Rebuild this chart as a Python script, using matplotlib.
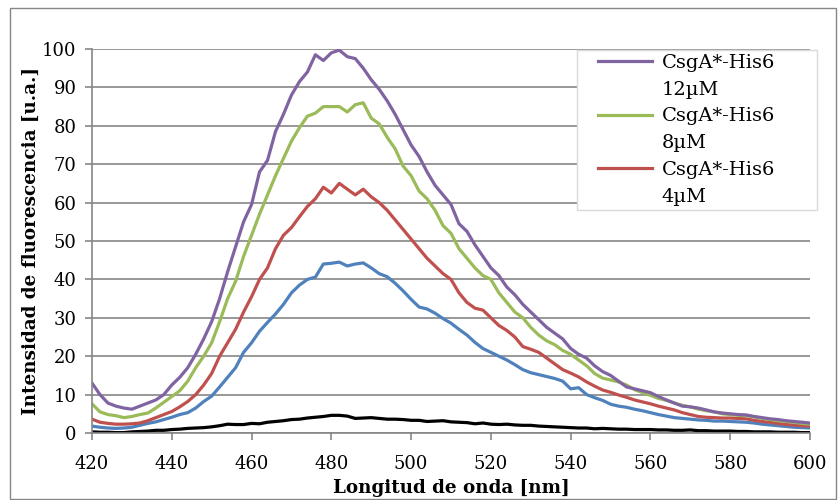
import numpy as np
import matplotlib.pyplot as plt
from matplotlib.lines import Line2D
from matplotlib.patches import Rectangle
from matplotlib.legend_handler import HandlerLine2D

# Wavelength axis, every 2 nm
wavelength = np.arange(420, 601, 2)

# CsgA*-His6 12uM (purple)
csga_12 = [13, 10, 7.8, 7, 6.5, 6.2, 7, 7.8, 8.6, 10,
           12.5, 14.5, 17, 20.5, 24.5, 29, 35, 42, 48.5, 55,
           59.5, 68, 71, 78.5, 83, 88, 91.5, 94, 98.5, 97,
           99, 99.7, 98, 97.5, 95, 92, 89.5, 86.5, 83, 79,
           75, 72, 68, 64.5, 62, 59.5, 54.5, 52.5, 49, 46,
           43, 41, 38, 36, 33.5, 31.5, 29.5, 27.5, 26, 24.5,
           22, 20.5, 19.5, 17.5, 16, 15, 13.5, 12, 11.5, 11,
           10.5, 9.5, 8.6, 7.8, 7, 6.8, 6.5, 6, 5.5, 5.2,
           5, 4.8, 4.7, 4.3, 4, 3.7, 3.5, 3.2, 3, 2.8, 2.6]

# CsgA*-His6 8uM (green)
csga_8 = [7.6, 5.5, 4.8, 4.5, 4, 4.3, 4.8, 5.2, 6.5, 8,
          9.5, 11, 13.5, 17, 20, 23.5, 29, 35, 39.5, 46,
          51.5, 57, 62, 67, 71.5, 76, 79.5, 82.5, 83.3, 85,
          85, 85, 83.6, 85.5, 86, 82, 80.5, 77, 74, 69.5,
          67, 63, 61, 58, 54, 52, 48, 45.5, 43, 41,
          40, 36.5, 34, 31.5, 30, 27.5, 25.5, 24, 23, 21.5,
          20.5, 19, 17.5, 15.5, 14.3, 13.8, 13.3, 12.5, 11.3, 10.5,
          9.8, 9, 8.5, 7.8, 7.2, 6.8, 6.2, 5.8, 5.5, 5,
          4.8, 4.6, 4.5, 4.2, 3.8, 3.5, 3.2, 3, 2.8, 2.5, 2.3]

# CsgA*-His6 4uM (red)
csga_4 = [3.6, 2.8, 2.5, 2.3, 2.3, 2.4, 2.6, 3.2, 4, 4.8,
          5.6, 6.8, 8.2, 10, 12.5, 15.5, 20, 23.5, 27, 31.5,
          35.5, 40, 43, 48, 51.5, 53.5, 56.3, 59, 61, 64,
          62.5, 65, 63.5, 62, 63.5, 61.5, 60, 58, 55.5, 53,
          50.5, 48, 45.5, 43.5, 41.5, 40, 36.5, 34, 32.5, 32,
          30, 28, 26.7, 25, 22.5, 21.8, 21, 19.5, 18, 16.5,
          15.6, 14.6, 13.3, 12.2, 11.2, 10.6, 9.9, 9.3, 8.6, 8.1,
          7.6, 7, 6.5, 6, 5.3, 4.8, 4.3, 4.1, 4, 3.9,
          3.9, 3.8, 3.7, 3.3, 3, 2.8, 2.5, 2.2, 2.1, 1.9, 1.8]

# blue series (not in legend)
serie_azul = [1.8, 1.5, 1.3, 1.2, 1.3, 1.5, 2, 2.5, 2.9, 3.5,
              4.1, 4.8, 5.3, 6.5, 8.2, 9.6, 12, 14.5, 17, 21,
              23.5, 26.5, 28.8, 31, 33.5, 36.5, 38.5, 40, 40.6, 44,
              44.2, 44.5, 43.5, 44, 44.3, 43, 41.5, 40.7, 39, 37,
              34.8, 32.8, 32.3, 31.2, 29.8, 28.6, 27, 25.5, 23.6, 22,
              21, 20, 19, 17.8, 16.5, 15.7, 15.2, 14.7, 14.2, 13.5,
              11.5, 11.8, 10, 9.2, 8.5, 7.5, 7, 6.7, 6.2, 5.8,
              5.3, 4.8, 4.4, 4, 3.8, 3.6, 3.4, 3.3, 3.1, 3.1,
              3, 2.9, 2.8, 2.6, 2.3, 2.1, 1.9, 1.7, 1.5, 1.4, 1.3]

# black series (blank, not in legend)
serie_negra = [0.3, 0.2, 0.2, 0.1, 0.1, 0.3, 0.4, 0.5, 0.7, 0.7,
               0.9, 1.0, 1.2, 1.3, 1.4, 1.6, 1.9, 2.3, 2.2, 2.2,
               2.5, 2.4, 2.8, 3.0, 3.2, 3.5, 3.6, 3.9, 4.1, 4.3,
               4.6, 4.6, 4.4, 3.8, 3.9, 4.0, 3.8, 3.6, 3.6, 3.5,
               3.3, 3.3, 3.0, 3.1, 3.2, 2.9, 2.8, 2.7, 2.4, 2.6,
               2.3, 2.2, 2.3, 2.1, 2.0, 2.0, 1.8, 1.7, 1.6, 1.5,
               1.4, 1.3, 1.3, 1.1, 1.2, 1.1, 1.0, 1.0, 0.9, 0.9,
               0.9, 0.8, 0.8, 0.7, 0.7, 0.8, 0.6, 0.6, 0.5, 0.5,
               0.5, 0.4, 0.4, 0.3, 0.3, 0.3, 0.2, 0.2, 0.2, 0.1, 0.1]

legend_names = ["CsgA*-His6", "CsgA*-His6", "CsgA*-His6"]
legend_conc = ["12µM", "8µM", "4µM"]

plt.rcParams['font.family'] = 'DejaVu Serif'
grey = '#868686'

fig = plt.figure(figsize=(8.38, 5.0), dpi=100)
ax = fig.add_axes([92 / 838, 1 - 433 / 500, (810 - 92) / 838, (433 - 49) / 500])

lw = 2.3
ax.plot(wavelength, serie_azul, color='#4F81BD', lw=lw)
l4, = ax.plot(wavelength, csga_4, color='#C0504D', lw=lw)
l8, = ax.plot(wavelength, csga_8, color='#9BBB59', lw=lw)
l12, = ax.plot(wavelength, csga_12, color='#8064A2', lw=lw)
ax.plot(wavelength, serie_negra, color='black', lw=lw)

ax.set_xlim(420, 600)
ax.set_ylim(0, 100)
ax.set_xticks(np.arange(420, 601, 20))
ax.set_yticks(np.arange(0, 101, 10))
ax.yaxis.grid(True, color=grey, lw=1.2)
ax.set_axisbelow(True)
for s in ['top', 'right']:
    ax.spines[s].set_visible(False)
for s in ['left', 'bottom']:
    ax.spines[s].set_color(grey)
    ax.spines[s].set_linewidth(1.2)
ax.tick_params(axis='both', direction='out', length=5, width=1.2, color=grey,
               labelsize=13)
ax.tick_params(axis='x', pad=11)
ax.tick_params(axis='y', pad=6)

ax.set_xlabel('Longitud de onda [nm]', fontsize=13.2, fontweight='bold', labelpad=4)
ax.set_ylabel('Intensidad de fluorescencia [u.a.]', fontsize=13.2,
              fontweight='bold', labelpad=1.5)

# legend: each label split over two rows, second row without a handle
blank = Line2D([], [], color='none')
handles = []
labels = []
for h, name, conc in zip([l12, l8, l4], legend_names, legend_conc):
    handles += [h, blank]
    labels += [name, conc]
leg = fig.legend(handles, labels, loc='upper left',
                 bbox_to_anchor=(577 / 838, 1 - 208 / 500, 240 / 838, 158 / 500),
                 mode='expand', borderaxespad=0,
                 handler_map={Line2D: HandlerLine2D(xpad=0.88)},
                 fontsize=14, handlelength=3.66, handletextpad=0.5,
                 labelspacing=0.45, borderpad=0.2, fancybox=False,
                 framealpha=1, edgecolor='#d9d9d9')
leg.get_frame().set_linewidth(1.0)

# outer chart border
fig.patches.append(Rectangle((10 / 838, 1 / 500), 826 / 838, 491 / 500,
                             transform=fig.transFigure, fill=False,
                             edgecolor=grey, lw=1.0))

fig.savefig('out.png', dpi=100)
